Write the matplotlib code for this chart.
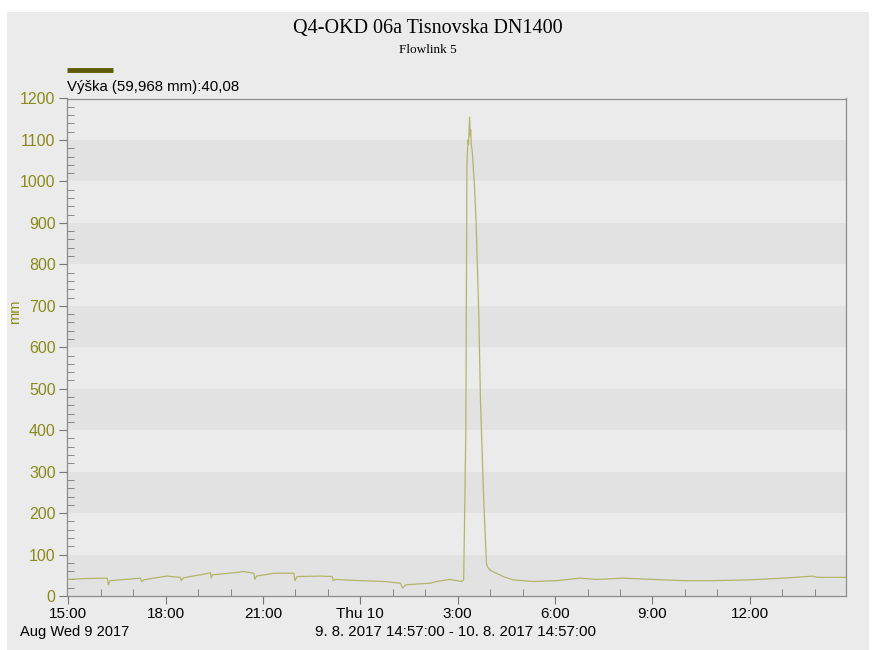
import matplotlib
matplotlib.use('Agg')
import matplotlib.pyplot as plt
import matplotlib.dates as mdates
import matplotlib.patches as mpatches
import matplotlib.ticker as mticker
import pandas as pd

plt.rcParams['font.family'] = ['Liberation Sans', 'DejaVu Sans']

# Výška (mm), Flowlink 5, 9.8.2017 14:57 - 10.8.2017 14:57
times = [
    '08-09 14:57', '08-09 15:30', '08-09 16:12', '08-09 16:14', '08-09 16:17',
    '08-09 16:45', '08-09 17:13', '08-09 17:16', '08-09 17:19', '08-09 18:02',
    '08-09 18:27', '08-09 18:29', '08-09 18:33', '08-09 19:04', '08-09 19:23',
    '08-09 19:24', '08-09 19:26', '08-09 20:06', '08-09 20:24', '08-09 20:43',
    '08-09 20:45', '08-09 20:48', '08-09 21:20', '08-09 21:57', '08-09 21:59',
    '08-09 22:03', '08-09 22:46', '08-09 23:08', '08-09 23:10', '08-09 23:14',
    '08-10 00:00', '08-10 00:43', '08-10 01:14', '08-10 01:18', '08-10 01:24',
    '08-10 02:10', '08-10 02:21', '08-10 02:45', '08-10 03:07', '08-10 03:11',
    '08-10 03:15', '08-10 03:17', '08-10 03:19', '08-10 03:20', '08-10 03:22',
    '08-10 03:23', '08-10 03:24', '08-10 03:25', '08-10 03:27', '08-10 03:31',
    '08-10 03:34', '08-10 03:39', '08-10 03:42', '08-10 03:48', '08-10 03:53',
    '08-10 03:55', '08-10 04:00', '08-10 04:24', '08-10 04:42', '08-10 05:19',
    '08-10 06:03', '08-10 06:46', '08-10 07:16', '08-10 08:06', '08-10 09:01',
    '08-10 09:57', '08-10 10:52', '08-10 12:00', '08-10 13:02', '08-10 13:57',
    '08-10 14:05', '08-10 14:57',
]
vyska = [
    40, 42, 43, 27, 37,
    40, 43, 34, 39, 48,
    45, 37, 44, 51, 56,
    43, 51, 56, 59, 55,
    40, 48, 55, 55, 37,
    47, 48, 47, 37, 40,
    37, 35, 31, 19, 27,
    31, 35, 40, 35, 39,
    395, 1040, 1100, 1090, 1155,
    1110, 1125, 1090, 1070, 990,
    900, 677, 475, 233, 80,
    70, 62, 47, 39, 35,
    37, 43, 40, 43, 40,
    37, 37, 39, 43, 48,
    45, 45,
]
t = pd.to_datetime(['2017-' + s for s in times], format='%Y-%m-%d %H:%M')

LINE = '#b4b56c'
OLIVE = '#8a8a1a'
DARK_OLIVE = '#5c5c0a'
BG = '#ebebeb'
BAND = '#e2e2e2'

fig = plt.figure(figsize=(8.72, 6.5), dpi=100, facecolor='white')
fig.patches.append(mpatches.Rectangle((7 / 872, 0), 862 / 872, 1 - 12 / 650,
                                      transform=fig.transFigure, facecolor=BG,
                                      edgecolor='none', zorder=-10))
ax = fig.add_axes([66.7 / 872, 1 - 596 / 650, 778.8 / 872, 497.5 / 650])
ax.set_facecolor(BG)

# pruhy po 100 mm
for lo in range(0, 1200, 200):
    ax.axhspan(lo, lo + 100, color=BAND, lw=0, zorder=0)

ax.plot(t, vyska, color=LINE, lw=0.9, zorder=2)

ax.set_xlim(pd.Timestamp('2017-08-09 14:57'), pd.Timestamp('2017-08-10 14:57'))
ax.set_ylim(0, 1200)

ax.xaxis.set_major_locator(mdates.HourLocator(byhour=[0, 3, 6, 9, 12, 15, 18, 21]))
ax.xaxis.set_minor_locator(mdates.HourLocator())
def xfmt(x, pos):
    d = mdates.num2date(x)
    return 'Thu 10' if d.hour == 0 else f'{d.hour}:00'
ax.xaxis.set_major_formatter(mticker.FuncFormatter(xfmt))
ax.yaxis.set_major_locator(mticker.MultipleLocator(100))
ax.yaxis.set_minor_locator(mticker.MultipleLocator(20))

ax.tick_params(axis='x', which='major', direction='out', length=6, color='#777777',
               labelsize=11, labelcolor='black', pad=2)
ax.tick_params(axis='x', which='minor', direction='in', length=5, color='#777777')
ax.tick_params(axis='y', which='major', direction='out', length=6, color='#777777',
               labelsize=11.5, labelcolor=OLIVE, pad=2)
ax.tick_params(axis='y', which='minor', direction='in', length=5, color='#777777')
for s in ax.spines.values():
    s.set_color('#8c8c8c')
    s.set_linewidth(0.9)

fig.text(15 / 872, 1 - 312 / 650, 'mm', color=OLIVE, fontsize=10.5, rotation=90,
         ha='center', va='center')

fig.text(428 / 872, 1 - 29 / 650, 'Q4-OKD 06a Tisnovska DN1400', ha='center', va='center',
         fontsize=14.5, family='Liberation Serif')
fig.text(428 / 872, 1 - 50 / 650, 'Flowlink 5', ha='center', va='center',
         fontsize=9.5, family='Liberation Serif')

# legenda
fig.add_artist(plt.Line2D([67 / 872, 113 / 872], [1 - 70 / 650, 1 - 70 / 650],
                          color=DARK_OLIVE, lw=3.5, solid_capstyle='butt',
                          transform=fig.transFigure))
fig.text(67 / 872, 1 - 87 / 650, 'Výška (59,968 mm):40,08', ha='left', va='center',
         fontsize=10.8)

fig.text(75 / 872, 1 - 632 / 650, 'Aug Wed 9 2017', ha='center', va='center', fontsize=10.5)
fig.text(455 / 872, 1 - 632 / 650, '9. 8. 2017 14:57:00 - 10. 8. 2017 14:57:00',
         ha='center', va='center', fontsize=10.8)

fig.savefig('out.png', dpi=100, facecolor='white')
